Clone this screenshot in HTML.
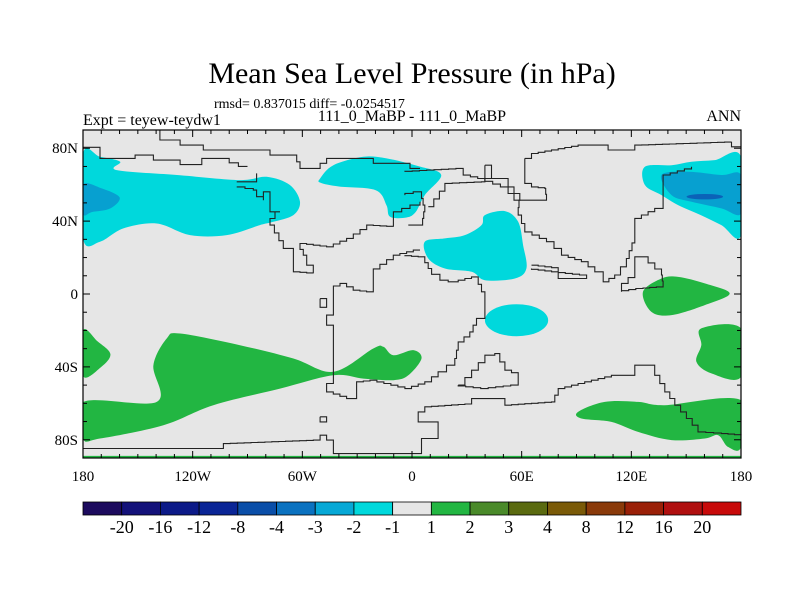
<!DOCTYPE html>
<html><head><meta charset="utf-8"><style>
body{margin:0;background:#fff;}
svg{display:block;font-family:"Liberation Serif",serif;}
</style></head><body>
<svg id="chart" width="800" height="600" viewBox="0 0 800 600">
<text x="412" y="83" font-size="30" text-anchor="middle">Mean Sea Level Pressure (in hPa)</text>
<text x="214" y="108" font-size="14">rmsd= 0.837015 diff= -0.0254517</text>
<text x="412" y="121" font-size="16" text-anchor="middle">111_0_MaBP - 111_0_MaBP</text>
<text x="83" y="125" font-size="16">Expt = teyew-teydw1</text>
<text x="741" y="121" font-size="16" text-anchor="end">ANN</text>
<g id="plot"></g>
<g id="cbar"></g>
</svg>
<script>
// ---- data (lon/lat) ----
const lonTicks=[-180,-120,-60,0,60,120,180];
const lonLabels=["180","120W","60W","0","60E","120E","180"];
const latTicks=[80,40,0,-40,-80];
const latLabels=["80N","40N","0","40S","80S"];
const levelLabels=["-20","-16","-12","-8","-4","-3","-2","-1","1","2","3","4","8","12","16","20"];
const levelColors=["#1d0b5e","#14127a","#0c1a88","#0a2596","#0a4ea8","#0b72c0","#07a8d6","#00d8dc","#e6e6e6","#22b642","#4a8a2a","#5a6a10","#7a5a08","#8a3a0a","#9a2008","#b01010","#c80a0a"];
const cyanRegions=[
 [[-180,77],[-170.7,75.3],[-159.7,72.6],[-161.5,68],[-126.9,65.2],[-94.1,62.5],[-79.5,64.3],[-66.8,59.8],[-61.3,50.6],[-64.9,43.3],[-75.9,39.6],[-83.2,37.8],[-101.4,32.3],[-121.4,32.3],[-139.7,38.7],[-157.9,36],[-170.7,28.7],[-180,30.5]],
 [[-50.3,63.4],[-43,70.7],[-26.6,75.3],[-13.9,74.4],[4,70],[16,65.3],[7,54.3],[2,45],[-3,42],[-12,42.4],[-14,48.8],[-20,57],[-40,59],[-50,61]],
 [[39.9,43.3],[50.8,45.5],[58.1,39.6],[60.8,26.8],[62.6,14],[56.3,8.5],[39.9,7.6],[32.6,12.2],[18,14],[8.9,19.5],[7,28.7],[18,30.5],[28.9,32.3],[38,37.8]],
 [[127.4,69.8],[142,70.7],[152.9,72.6],[165.6,73.5],[180,75.3],[180,32.3],[169.3,37.8],[158,43.3],[145.6,48.8],[136.5,54.3],[127.4,59.8]]
];
const cyanOval=[57.2,-14.4,17.3,8.8];
const blueRegions=[
 [[-180,60],[-170,58],[-160,53],[-165,47],[-175,45],[-180,44]],
 [[136.5,65.3],[151.1,67.1],[169.3,65.3],[180,65.3],[180,44.2],[169.3,47],[153,50.6],[142,54.3]]
];
const darkBlueOval=[160.2,53.4,10,1.5];
const greenRegions=[
 [[-180,-20],[-172,-26],[-165,-33],[-170,-40],[-180,-45]],
 [[-179.8,-59.2],[-139.7,-59.2],[-141.5,-39.1],[-134.2,-24.4],[-126.9,-21.7],[-94.1,-28.1],[-64.9,-35.4],[-43,-42.7],[-21.2,-29.9],[-15.7,-29],[-10.2,-33.6],[0.7,-30.8],[5.2,-35.4],[-2,-44.6],[-10.2,-47.3],[-26.6,-46.4],[-43,-44.6],[-72.2,-51.9],[-108.7,-61],[-136,-72],[-170.7,-79.3],[-180,-79.3]],
 [[126.4,1.2],[136.5,8.5],[145.6,9.4],[160.2,5.8],[173.8,0.3],[160.2,-6.1],[142,-11.6],[131,-9.8]],
 [[158.3,-18.9],[180,-18.9],[180,-45.5],[163.8,-43.6],[155.6,-37.2],[158.3,-28.1]],
 [[90.9,-64.7],[105.5,-59.2],[123.7,-59.2],[138.3,-61],[180,-58.3],[180,-83.9],[172.9,-83.9],[167.5,-77.5],[160.2,-79.3],[142,-80.2],[123.7,-75.7],[109.1,-70.2],[92.7,-68.3]]
];
const southStrip=[[-180,-88.8],[180,-88.8],[180,-90],[-180,-90]];
const coastlines=[
 [[-137.9,90],[-137.9,84.5],[-126.9,84.5],[-126.9,81.7],[-114.2,81.7],[-114.2,79],[-77.7,79],[-77.7,76.2],[-64.9,76.2],[-61.3,68.9],[-50.3,68.9],[-50.3,71.7],[-46.7,74.4],[-21.2,74.4],[-21.2,71.7],[-6.6,71.7],[-1.1,68.9],[4.4,68.9]],
 [[-180,80.5],[-170.7,80.5],[-170.7,74.4],[-151.5,74.4],[-151.5,76.2],[-141.5,76.2],[-141.5,73.5],[-126.9,73.5],[-126.9,71],[-115,71],[-115,74.4],[-100,74.4],[-100,72],[-95,72],[-95,70],[-90,70]],
 [[61.7,74.4],[65.4,77.1],[90.9,81.7],[107.3,81.7],[107.3,79],[121.9,79],[121.9,81.7],[174.8,83.5],[174.8,80.8],[180,80.8]],
 [[61.7,74.4],[61.7,60.7],[65.4,58.8],[72.7,57.9],[73.6,51.5],[59,51.5],[52.6,58.8],[39.9,63.4],[28,66.2],[28,68.9],[-3.9,67.1]],
 [[-95.9,61.6],[-85,61.6],[-85,66.2]],
 [[-95.9,58.8],[-86.8,57],[-85,53.4],[-81.3,51.5],[-81.3,56.1],[-77.7,56.1],[-77.7,45.1],[-72.2,45.1],[-77.7,37.8],[-70.4,25],[-64.9,19.5],[-64.9,12.2],[-54,11.3],[-54,15.8],[-57.6,21.3],[-61.3,27.7],[-46.7,25.9],[-35.8,30.5],[-24.8,37.8],[-10.2,36.9],[-10.2,45.1],[-1.1,48.8],[4.4,50.6]],
 [[-50.3,-2.5],[-46.7,-2.5],[-46.7,-7.3],[-50.3,-7.3],[-50.3,-2.5]],
 [[4.4,24.1],[-6.6,21.3],[-21.2,11.3],[-21.2,1.2],[-28.5,2.1],[-35.8,5.8],[-43,3],[-43,-11.6],[-46.7,-11.6],[-46.7,-17.1],[-43,-22.6],[-43,-49.1],[-46.7,-50],[-46.7,-53.7],[-35.8,-57.4],[-30.3,-53.7],[-30.3,-48.2],[-23,-47.3],[-3.9,-51.9],[7,-48.2],[14.3,-42.7],[23.4,-35.4],[25.3,-26.3],[31.6,-20.8],[35.3,-13.4],[39.9,-8],[39.9,1.2],[36.2,9.4],[25.3,6.7],[19.8,7.6],[10.7,14],[7,20.4],[-3.9,21.3]],
 [[-180,-84.8],[-103.2,-84.8],[-103.2,-82.1],[-54,-80.2],[-50.3,-77.5],[-46.7,-80.2],[-43,-84.8],[-43,-87.6],[4.4,-87.6],[5.2,-83.9],[5.2,-79.3],[14.3,-79.3],[14.3,-70.2],[3.4,-70.2],[3.4,-64.7],[7,-61.9],[32.6,-60.1],[32.6,-57.4],[50.8,-57.4],[50.8,-61],[76.3,-59.2],[80,-51.9],[94.5,-48.2],[109.1,-44.6],[121.9,-44.6],[121.9,-39.1],[132.8,-39.1],[132.8,-44.6],[138.3,-53.7],[143.8,-61],[156.5,-75.7],[169.3,-76.6],[180,-77.5]],
 [[8.9,47.9],[18,60.7],[38,61.6],[39.9,63.4],[50.8,63.4],[52.6,58.8],[59,51.5],[58.1,43.3],[61.7,34.1],[73.6,28.7],[81.8,21.3],[92.7,17.7],[100,12.2],[104.6,6.7],[110.9,10.4],[117.3,19.5],[121.9,32.3],[121.9,41.5],[132.8,47],[137.4,49.7],[137.4,65.3],[152.9,69.8]],
 [[-2,37.8],[5.2,37.8],[7,48.8],[5.2,56.1],[-3.9,54.3]],
 [[114.6,1.2],[114.6,5.8],[121.9,12.2],[121.9,20.4],[125.5,20.4],[136.5,10.4],[137.4,3.9],[126.4,3],[114.6,1.2]],
 [[65.4,15.8],[80,14],[80,8.5],[95.5,8.5],[95.5,10.4],[80,12.2],[65.4,14]],
 [[25.3,-50],[39.9,-33.6],[45.3,-32.7],[50.8,-41.8],[58.1,-44.6],[58.1,-50],[41.7,-51.9],[25.3,-50]],
 [[39.9,70.7],[43.5,70.7],[43.5,63.4],[39.9,63.4],[39.9,70.7]],
 [[-50.3,-67.4],[-46.7,-67.4],[-46.7,-70.2],[-50.3,-70.2],[-50.3,-67.4]]
];
// ---- axes ----
const X0=83,X1=741,Y0=130,Y1=458;
const xS=lon=>X0+(lon+180)/360*(X1-X0);
const yS=lat=>Y0+(90-lat)/180*(Y1-Y0);
const NS="http://www.w3.org/2000/svg";
const plot=document.getElementById('plot');
function mk(tag,attrs,parent){const e=document.createElementNS(NS,tag);for(const k in attrs)e.setAttribute(k,attrs[k]);(parent||plot).appendChild(e);return e;}
function smoothPath(poly){const P=poly.map(p=>[xS(p[0]),yS(p[1])]);const n=P.length;let d='M'+P[0][0].toFixed(1)+','+P[0][1].toFixed(1);
 for(let i=0;i<n;i++){const p0=P[(i-1+n)%n],p1=P[i],p2=P[(i+1)%n],p3=P[(i+2)%n];
  const c1=[p1[0]+(p2[0]-p0[0])/6,p1[1]+(p2[1]-p0[1])/6],c2=[p2[0]-(p3[0]-p1[0])/6,p2[1]-(p3[1]-p1[1])/6];
  d+=' C'+c1.map(v=>v.toFixed(1)).join(',')+' '+c2.map(v=>v.toFixed(1)).join(',')+' '+p2[0].toFixed(1)+','+p2[1].toFixed(1);}
 return d+'Z';}
function stairPts(poly){const P=poly.map(p=>[xS(p[0]),yS(p[1])]);const out=[P[0]];
 for(let i=1;i<P.length;i++){const a=P[i-1],b=P[i];const dx=b[0]-a[0],dy=b[1]-a[1];
  if(Math.abs(dx)<0.5||Math.abs(dy)<0.5){out.push(b);continue;}
  const k=Math.max(1,Math.round(Math.max(Math.abs(dx),Math.abs(dy))/7));
  for(let j=1;j<=k;j++){out.push([a[0]+dx*j/k,a[1]+dy*(j-1)/k]);out.push([a[0]+dx*j/k,a[1]+dy*j/k]);}}
 return out.map(p=>p[0].toFixed(1)+','+p[1].toFixed(1)).join(' ');}
const bg=mk('rect',{x:X0,y:Y0,width:X1-X0,height:Y1-Y0,fill:'#e6e6e6'});


function drawRegions(list,color,name){list.forEach(r=>{const e=mk('path',{d:smoothPath(r),fill:color});

});}
function drawOval(o,color,name){const e=mk('ellipse',{cx:xS(o[0]),cy:yS(o[1]),rx:xS(o[0]+o[2])-xS(o[0]),ry:yS(o[1]-o[3])-yS(o[1]),fill:color});

}
const clip=mk('clipPath',{id:'pc'});mk('rect',{x:X0,y:Y0,width:X1-X0,height:Y1-Y0},clip);
const fg=mk('g',{'clip-path':'url(#pc)'});
const savedPlot=plot;
(function(){const oldMk=mk;})();
function drawInto(g,fn){const keep=plot.appendChild.bind(plot);fn();}
drawRegions(cyanRegions,'#00d8dc','anomaly-region-minus2');
drawOval(cyanOval,'#00d8dc','anomaly-region-minus2');
drawRegions(greenRegions,'#22b642','anomaly-region-plus2');
drawRegions(blueRegions,'#07a0d0','anomaly-region-minus3');
drawOval(darkBlueOval,'#0b62b8','anomaly-region-minus4');
const strip=mk('polygon',{points:southStrip.map(p=>xS(p[0])+','+yS(p[1])).join(' '),fill:'#22b642'});


// move filled shapes into clipped group
Array.from(plot.querySelectorAll(':scope > path, :scope > ellipse, :scope > polygon')).forEach(e=>fg.appendChild(e));
coastlines.forEach(c=>{const e=mk('polyline',{points:stairPts(c),fill:'none',stroke:'#222','stroke-width':1.1});

});
const fr=mk('rect',{x:X0,y:Y0,width:X1-X0,height:Y1-Y0,fill:'none',stroke:'#000','stroke-width':1.2});


for(let lon=-180;lon<=180;lon+=10){const L=lon%60===0?7:4;const x=xS(lon);
 mk('line',{x1:x,y1:Y0,x2:x,y2:Y0+L,stroke:'#000'});mk('line',{x1:x,y1:Y1,x2:x,y2:Y1-L,stroke:'#000'});}
for(let lat=-90;lat<=90;lat+=10){const L=lat%40===0?7:4;const y=yS(lat);
 mk('line',{x1:X0,y1:y,x2:X0+L,y2:y,stroke:'#000'});mk('line',{x1:X1,y1:y,x2:X1-L,y2:y,stroke:'#000'});}
lonTicks.forEach((v,i)=>{const t=mk('text',{x:xS(v),y:481,'font-size':15,'text-anchor':'middle'});t.textContent=lonLabels[i];

});
latTicks.forEach((v,i)=>{const t=mk('text',{x:78,y:yS(v)+5,'font-size':15,'text-anchor':'end'});t.textContent=latLabels[i];

});
// colorbar
const cb=document.getElementById('cbar');
const n=levelColors.length,bw=(X1-X0)/n;
levelColors.forEach((c,i)=>{const r=mk('rect',{x:X0+i*bw,y:502,width:bw,height:13,fill:c,stroke:'#000','stroke-width':0.8},cb);

});
levelLabels.forEach((l,i)=>{const t=mk('text',{x:X0+(i+1)*bw,y:533,'font-size':18,'text-anchor':'middle'},cb);t.textContent=l;

});
</script>
</body></html>
